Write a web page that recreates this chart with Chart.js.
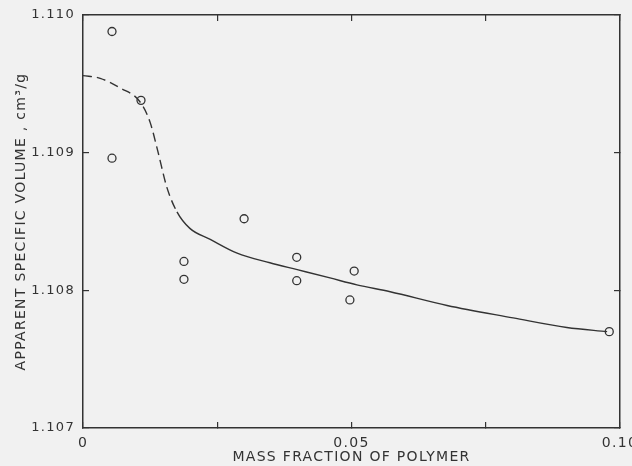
<!DOCTYPE html>
<html>
<head>
<meta charset="utf-8">
<script src="https://cdn.jsdelivr.net/npm/chart.js@4"></script>
<style>
  html, body { margin: 0; padding: 0; background: #f1f1f1; }
  #wrap { width: 632px; height: 466px; }
</style>
</head>
<body>
<div id="wrap"><canvas id="chart"></canvas></div>
<script>
// measured points
const massFraction = [0.0054, 0.0054, 0.0108, 0.0188, 0.0188, 0.0300, 0.0398, 0.0398, 0.0497, 0.0505, 0.0980];
const specVolume = [1.10988, 1.10896, 1.10938, 1.10821, 1.10808, 1.10852, 1.10824, 1.10807, 1.10793, 1.10814, 1.10770];

// drawn curve; the first part (up to dashEnd) is dashed
const curveX = [0, 0.0032, 0.0069, 0.0106, 0.0125, 0.0140, 0.0156, 0.0175, 0.0199, 0.0237, 0.0287, 0.0348, 0.0399, 0.0460, 0.0510, 0.0572, 0.0678, 0.0801, 0.0901, 0.0976];
const curveY = [1.10956, 1.10954, 1.10947, 1.10937, 1.10922, 1.10900, 1.10875, 1.10857, 1.10845, 1.10837, 1.10827, 1.10820, 1.10815, 1.10809, 1.10804, 1.10799, 1.10789, 1.10780, 1.10773, 1.10770];
const dashEnd = 7;

const xTickLabels = {0: '0', 0.05: '0.05', 0.1: '0.10'};
const yTickLabels = ['1.107', '1.108', '1.109', '1.110'];

const ink = '#333';
const toXY = (xs, ys) => xs.map((x, i) => ({x: x, y: ys[i]}));

const font = {family: 'DejaVu Sans', size: 14};

// fixed box sizes, and no extra padding for overhanging labels
const fitTo = (w, h) => s => {
  if (w !== null) s.width = w;
  if (h !== null) s.height = h;
  s.paddingLeft = s.paddingRight = s.paddingTop = s.paddingBottom = 0;
};

const edgeGrid = {drawOnChartArea: false, color: ink, tickLength: -6, lineWidth: 1.2};

// the old lettering is widely spaced
const spacing = {
  id: 'spacing',
  beforeDraw(chart) { chart.ctx.letterSpacing = '1.3px'; }
};

new Chart(document.getElementById('chart'), {
  type: 'scatter',
  plugins: [spacing],
  data: {
    datasets: [
      {
        data: toXY(massFraction, specVolume),
        pointStyle: 'circle',
        pointRadius: 4,
        pointBorderWidth: 1.3,
        pointBorderColor: ink,
        pointBackgroundColor: 'rgba(0,0,0,0)'
      },
      {
        data: toXY(curveX, curveY),
        showLine: true,
        borderColor: ink,
        borderWidth: 1.4,
        cubicInterpolationMode: 'monotone',
        segment: {borderDash: ctx => ctx.p1DataIndex <= dashEnd ? [9, 5] : []},
        pointRadius: 0
      }
    ]
  },
  options: {
    responsive: true,
    maintainAspectRatio: false,
    animation: false,
    layout: {padding: 0},
    plugins: {legend: {display: false}, tooltip: {enabled: false}},
    scales: {
      x: {
        type: 'linear', position: 'bottom', min: 0, max: 0.1,
        afterFit: fitTo(null, 38),
        border: {color: ink, width: 1.5},
        grid: edgeGrid,
        ticks: {
          stepSize: 0.025, color: ink, font: font, padding: 13, maxRotation: 0,
          callback: v => xTickLabels[Math.round(v * 1000) / 1000] || ''
        },
        title: {display: true, text: 'MASS FRACTION OF POLYMER', color: ink, font: font, padding: 0}
      },
      x2: {
        type: 'linear', position: 'top', min: 0, max: 0.1,
        afterFit: fitTo(null, 15),
        border: {color: ink, width: 1.5},
        grid: edgeGrid,
        ticks: {stepSize: 0.025, display: false}
      },
      y: {
        type: 'linear', position: 'left', min: 1.107, max: 1.110,
        afterFit: fitTo(83, null),
        border: {color: ink, width: 1.5},
        grid: edgeGrid,
        ticks: {
          stepSize: 0.001, color: ink, font: {family: 'DejaVu Sans', size: 13}, padding: 14,
          callback: (v, i) => yTickLabels[i]
        },
        title: {display: true, text: 'APPARENT SPECIFIC VOLUME , cm³/g', color: ink, font: font, padding: {top: 13, bottom: 0}}
      },
      y2: {
        type: 'linear', position: 'right', min: 1.107, max: 1.110,
        afterFit: fitTo(12, null),
        border: {color: ink, width: 1.5},
        grid: edgeGrid,
        ticks: {stepSize: 0.001, display: false}
      }
    }
  }
});
</script>
</body>
</html>
